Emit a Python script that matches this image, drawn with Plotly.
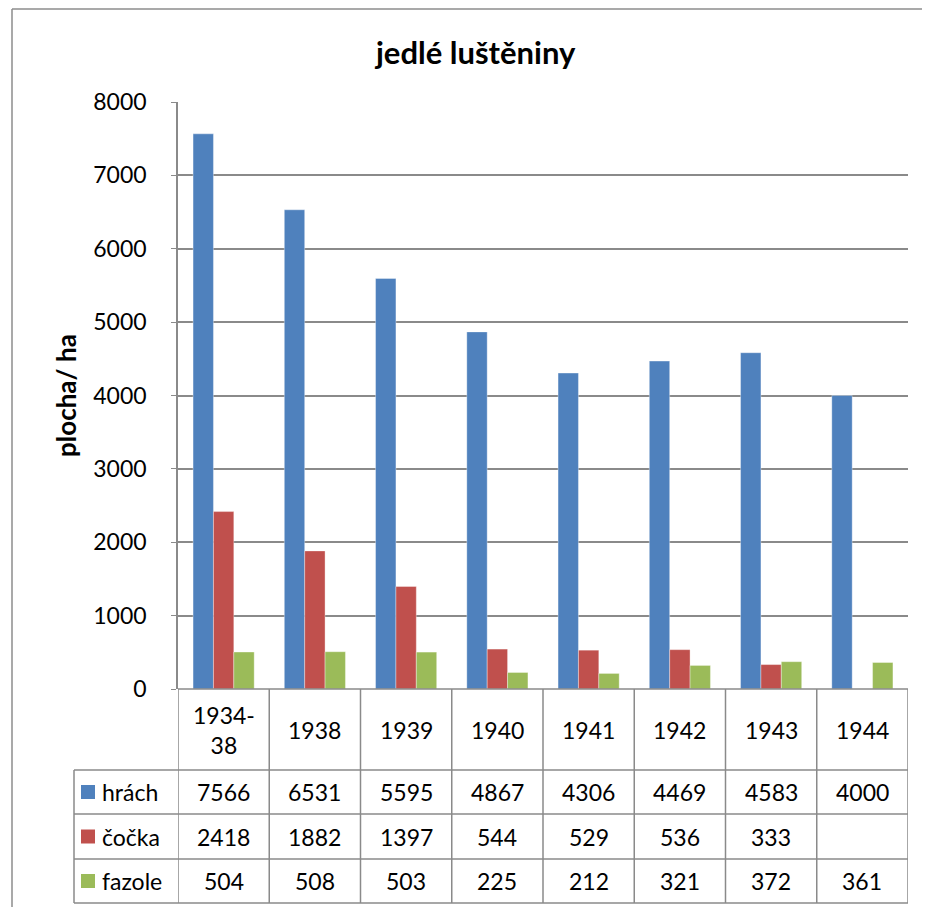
import plotly.graph_objects as go

categories = ["1934-<br>38", "1938", "1939", "1940", "1941", "1942", "1943", "1944"]
series_names = ["hrách", "čočka", "fazole"]
hrach = [7566, 6531, 5595, 4867, 4306, 4469, 4583, 4000]
cocka = [2418, 1882, 1397, 544, 529, 536, 333, None]
fazole = [504, 508, 503, 225, 212, 321, 372, 361]
y_ticks = [0, 1000, 2000, 3000, 4000, 5000, 6000, 7000, 8000]
colors = ["#4F81BD", "#C0504D", "#9BBB59"]

OFF = 8  # page body margin offset
W, H = 922, 899
L, R, T, B = 178 - OFF, 908 - OFF, 102 - OFF, 689 - OFF
pw, ph = R - L, B - T
FONT = "Lato"
GRID = "#8a8a8a"
FS = 23

def px(x):
    return (x - OFF - L) / pw

def py(y):
    return (B - (y - OFF)) / ph

series = [hrach, cocka, fazole]
xs = list(range(len(categories)))

fig = go.Figure()
for name, vals, col in zip(series_names, series, colors):
    fig.add_trace(go.Bar(x=xs, y=vals, name=name, marker_color=col,
                         marker_line=dict(color="rgba(255,255,255,0.35)", width=1),
                         showlegend=False))

shapes = []
ann = []

# outer border (left and top visible)
shapes.append(dict(type="line", xref="paper", yref="paper", x0=px(12), x1=px(960),
                   y0=py(9), y1=py(9), line=dict(color="#8c8c8c", width=1.5)))
shapes.append(dict(type="line", xref="paper", yref="paper", x0=px(12), x1=px(12),
                   y0=py(9), y1=py(960), line=dict(color="#8c8c8c", width=1.5)))

# table lines
row_y = [689, 770, 814, 859, 903]
tbl_left = 74
for i in range(len(categories) + 1):
    xv = i - 0.5
    shapes.append(dict(type="line", xref="x", yref="paper", x0=xv, x1=xv,
                       y0=py(689), y1=py(903), line=dict(color=GRID, width=1.5)))
shapes.append(dict(type="line", xref="paper", yref="paper", x0=0, x1=1,
                   y0=py(689), y1=py(689), line=dict(color=GRID, width=1.5)))
for yy in row_y[1:]:
    shapes.append(dict(type="line", xref="paper", yref="paper", x0=px(tbl_left), x1=1,
                       y0=py(yy), y1=py(yy), line=dict(color=GRID, width=1.5)))
shapes.append(dict(type="line", xref="paper", yref="paper", x0=px(tbl_left), x1=px(tbl_left),
                   y0=py(770), y1=py(903), line=dict(color=GRID, width=1.5)))

for i, c in enumerate(categories):
    ann.append(dict(x=i, y=py(729.5), xref="x", yref="paper", text=c, showarrow=False,
                    font=dict(family=FONT, size=FS, color="#000"), xanchor="center", yanchor="middle"))

for r, (name, vals, col) in enumerate(zip(series_names, series, colors)):
    yc = (row_y[r + 1] + row_y[r + 2]) / 2
    shapes.append(dict(type="rect", xref="paper", yref="paper", x0=px(81), x1=px(95),
                       y0=py(yc - 7), y1=py(yc + 7), fillcolor=col, line=dict(width=0)))
    ann.append(dict(x=px(100), y=py(yc), xref="paper", yref="paper", text=name, showarrow=False,
                    font=dict(family=FONT, size=FS, color="#000"), xanchor="left", yanchor="middle"))
    for i, v in enumerate(vals):
        if v is None:
            continue
        ann.append(dict(x=i, y=py(yc), xref="x", yref="paper", text=str(v), showarrow=False,
                        font=dict(family=FONT, size=FS, color="#000"), xanchor="center", yanchor="middle"))

ann.append(dict(x=px(475), y=py(52), xref="paper", yref="paper", text="<b>jedlé luštěniny</b>",
                showarrow=False, font=dict(family=FONT, size=31, color="#000"),
                xanchor="center", yanchor="middle"))
ann.append(dict(x=px(66), y=py(396), xref="paper", yref="paper", text="<b>plocha/ ha</b>",
                showarrow=False, textangle=-90, font=dict(family=FONT, size=26, color="#000"),
                xanchor="center", yanchor="middle"))

fig.update_layout(
    width=W, height=H,
    margin=dict(l=L, r=W - R, t=T, b=H - B, pad=0),
    paper_bgcolor="white", plot_bgcolor="white",
    barmode="group", bargap=0.33, bargroupgap=0,
    shapes=shapes, annotations=ann,
    font=dict(family=FONT, size=FS, color="#000"),
)
fig.update_xaxes(range=[-0.5, len(categories) - 0.5], showticklabels=False, showgrid=False,
                 zeroline=False, showline=False, ticks="", fixedrange=True)
fig.update_yaxes(range=[0, 8000], tickvals=y_ticks, ticktext=[str(t) for t in y_ticks],
                 showgrid=True, gridcolor=GRID, gridwidth=1.5, zeroline=False,
                 showline=True, linecolor=GRID, linewidth=1.5, ticks="outside", ticklen=5,
                 tickcolor=GRID, ticklabelstandoff=20, mirror=False,
                 tickfont=dict(family=FONT, size=FS, color="#000"))

fig.write_html("out.html")
